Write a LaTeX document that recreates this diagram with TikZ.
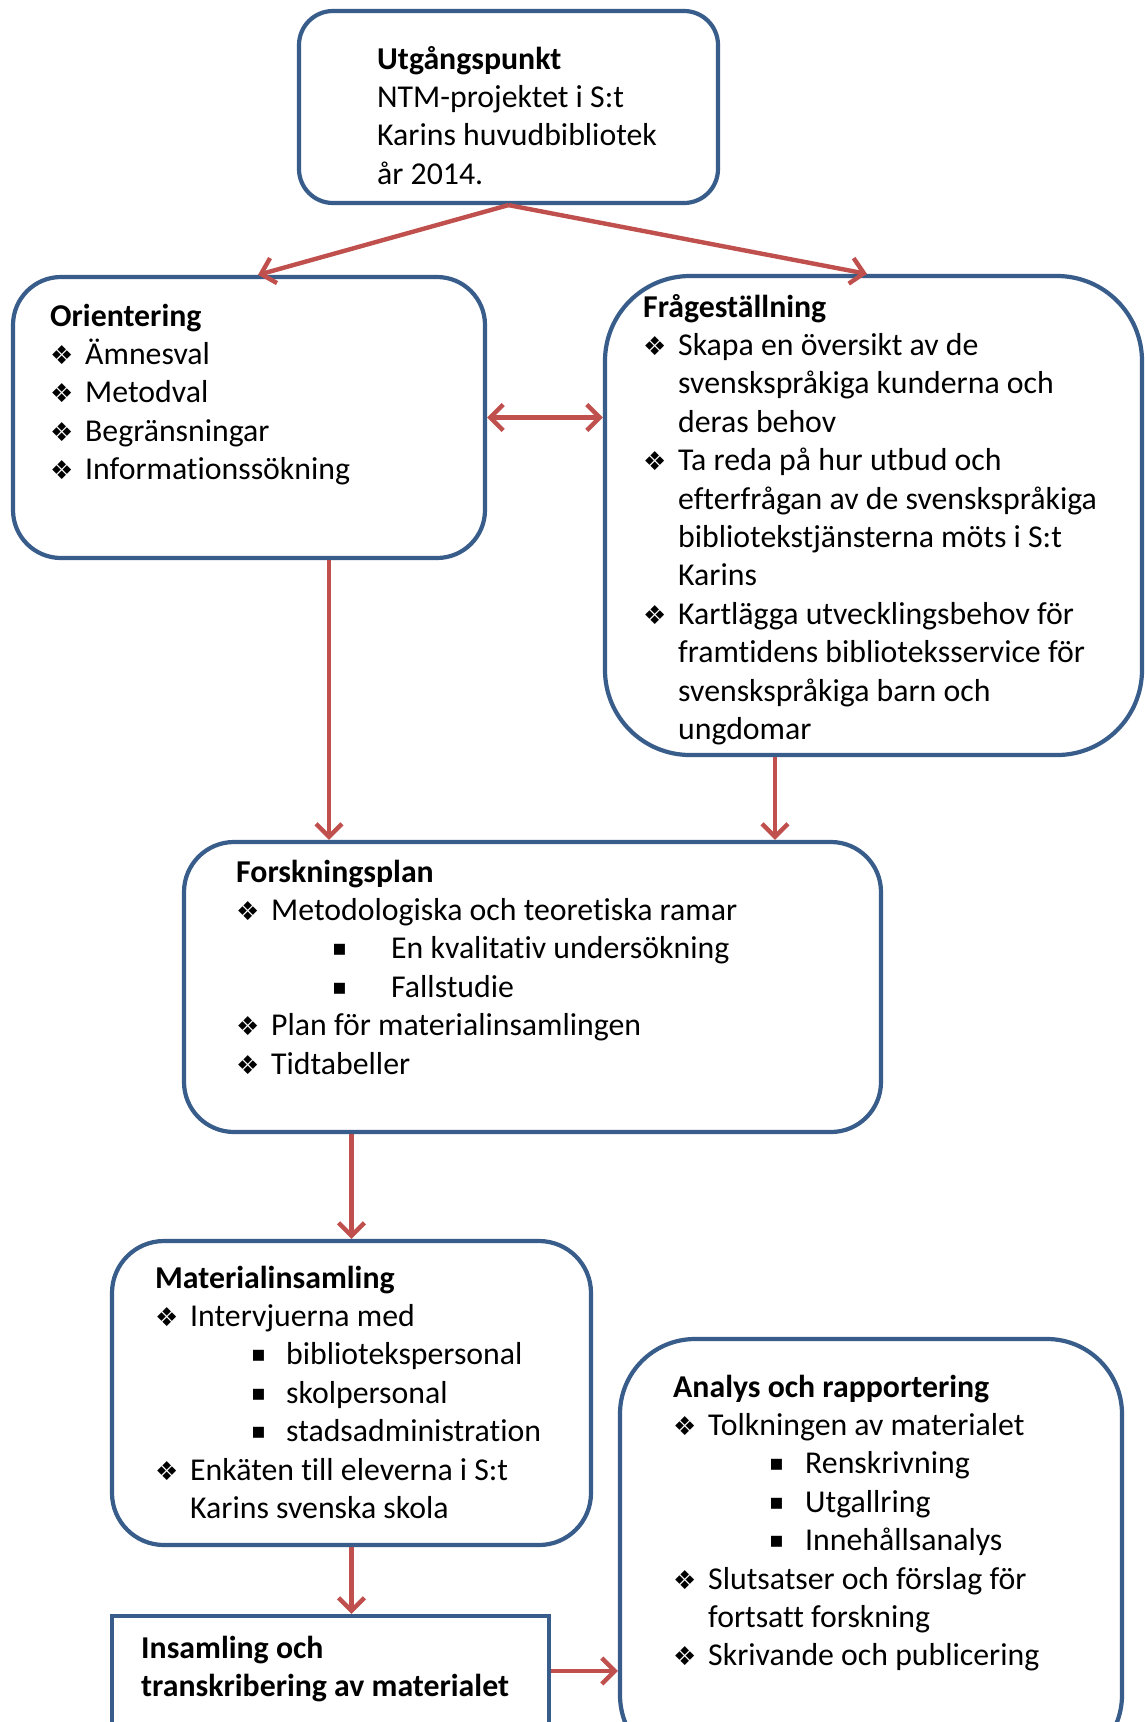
\documentclass[tikz,border=0pt]{standalone}
\usepackage{fontspec}
\setmainfont{Carlito}[Ligatures=NoCommon]
\newfontfamily\symf{DejaVu Sans}
\usetikzlibrary{arrows.meta}
\definecolor{boxblue}{HTML}{385D8A}
\definecolor{arrred}{HTML}{C0504D}
\newcommand{\dia}{\makebox[35pt][l]{\raisebox{0pt}{\symf\fontsize{26}{26}\selectfont ❖}}}
\newcommand{\ind}{\hspace*{35pt}}
\newcommand{\sqb}[2]{\hspace*{96pt}\makebox[#1][l]{\raisebox{3pt}{\symf\fontsize{22}{22}\selectfont ▪}}#2}
\newcommand{\lines}[1]{\begin{tabular}[t]{@{}l@{}}#1\end{tabular}}
\begin{document}
\begin{tikzpicture}[x=1pt,y=-1pt,
  box/.style={draw=boxblue,line width=4.2pt,rounded corners=#1,fill=white,inner sep=0pt},
  box/.default=45pt,
  txt/.style={anchor=base west,inner sep=0pt,font=\fontsize{31.8}{38.4}\selectfont},
  arr/.style={draw=arrred,line width=4.4pt,-{Straight Barb[length=13pt,width=26pt]}},
  arrb/.style={draw=arrred,line width=4.4pt,{Straight Barb[length=13pt,width=26pt]}-{Straight Barb[length=13pt,width=26pt]}}]
\useasboundingbox (0,0) rectangle (1144,1722);
\fill[white] (0,0) rectangle (1144,1722);
% boxes
\node[box=34pt,minimum width=419pt,minimum height=192pt] (top) at (508.5,107) {};
\node[box=48pt,minimum width=472pt,minimum height=281pt] (orient) at (249,417.5) {};
\node[box=85pt,minimum width=537pt,minimum height=479pt] (fraga) at (873.5,515.5) {};
\node[box=50pt,minimum width=697pt,minimum height=290pt] (forsk) at (532.5,987) {};
\node[box=52pt,minimum width=479pt,minimum height=304pt] (mat) at (351.5,1393) {};
\node[box=0pt,minimum width=437pt,minimum height=164pt] (ins) at (330.5,1698) {};
\node[box=75pt,minimum width=502pt,minimum height=431pt] (analys) at (871,1554.5) {};
% texts
\node[txt] (t0) at (377,69) {\lines{\textbf{Utgångspunkt}\\NTM-projektet i S:t\\Karins huvudbibliotek\\år 2014.}};
\node[txt] (t1) at (50,326) {\lines{\textbf{Orientering}\\\dia Ämnesval\\\dia Metodval\\\dia Begränsningar\\\dia Informationssökning}};
\node[txt] (t2) at (643,317) {\lines{\textbf{Frågeställning}\\\dia Skapa en översikt av de\\\ind svenskspråkiga kunderna och\\\ind deras behov\\\dia Ta reda på hur utbud och\\\ind efterfrågan av de svenskspråkiga\\\ind bibliotekstjänsterna möts i S:t\\\ind Karins\\\dia Kartlägga utvecklingsbehov för\\\ind framtidens biblioteksservice för\\\ind svenskspråkiga barn och\\\ind ungdomar}};
\node[txt] (t3) at (236,882) {\lines{\textbf{Forskningsplan}\\\dia Metodologiska och teoretiska ramar\\\sqb{59pt}{En kvalitativ undersökning}\\\sqb{59pt}{Fallstudie}\\\dia Plan för materialinsamlingen\\\dia Tidtabeller}};
\node[txt] (t4) at (155,1288) {\lines{\textbf{Materialinsamling}\\\dia Intervjuerna med\\\sqb{35pt}{bibliotekspersonal}\\\sqb{35pt}{skolpersonal}\\\sqb{35pt}{stadsadministration}\\\dia Enkäten till eleverna i S:t\\\ind Karins svenska skola}};
\node[txt] (t5) at (141,1658) {\lines{\textbf{Insamling och}\\\textbf{transkribering av materialet}}};
\node[txt] (t6) at (673,1397) {\lines{\textbf{Analys och rapportering}\\\dia Tolkningen av materialet\\\sqb{36pt}{Renskrivning}\\\sqb{36pt}{Utgallring}\\\sqb{36pt}{Innehållsanalys}\\\dia Slutsatser och förslag för\\\ind fortsatt forskning\\\dia Skrivande och publicering}};
% arrows
\draw[arr] (top.south) -- ([xshift=9pt]orient.north);
\draw[arr] (top.south) -- ([xshift=-6.5pt]fraga.north);
\draw[arrb] (orient.east) -- (fraga.west |- orient.east);
\draw[arr] ([xshift=80pt]orient.south) -- ([xshift=-203.5pt]forsk.north);
\draw[arr] ([xshift=-98.5pt]fraga.south) -- ([xshift=242.5pt]forsk.north);
\draw[arr] ([xshift=-181pt]forsk.south) -- (mat.north);
\draw[arr] (mat.south) -- ([xshift=21pt]ins.north);
\draw[arr] ([yshift=27pt]ins.east) -- ([yshift=-116.5pt]analys.west);
\end{tikzpicture}
\end{document}
